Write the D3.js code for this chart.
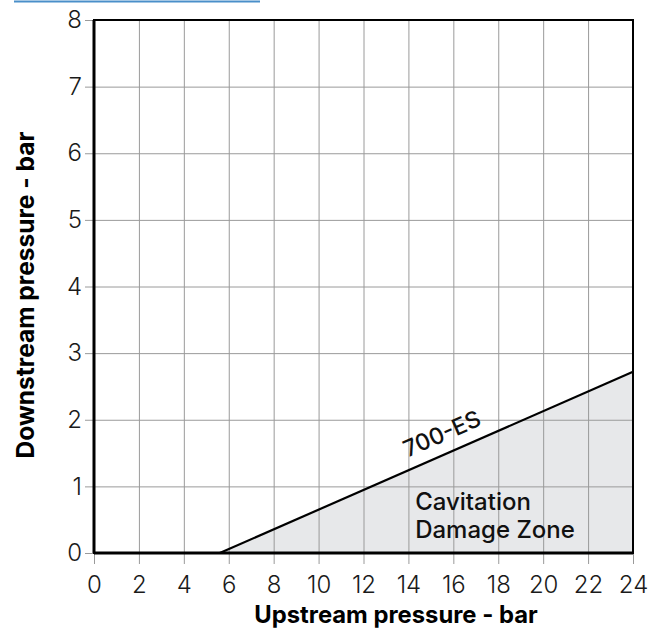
<!DOCTYPE html>
<html>
<head>
<meta charset="utf-8">
<script src="https://cdn.jsdelivr.net/npm/d3@7"></script>
<style>
  html, body { margin: 0; padding: 0; background: #fff; }
  svg { display: block; font-family: Inter, "Liberation Sans", Arial, sans-serif; }
</style>
</head>
<body>
<svg id="chart" width="662" height="628"></svg>
<script>
// ---- data ----
const xTicks = [0, 2, 4, 6, 8, 10, 12, 14, 16, 18, 20, 22, 24];
const yTicks = [0, 1, 2, 3, 4, 5, 6, 7, 8];
const lineX = [5.6, 24];
const lineY = [0, 2.72];
const seriesLabel = "700-ES";
const zoneLabel = ["Cavitation", "Damage Zone"];
const xTitle = "Upstream pressure - bar";
const yTitle = "Downstream pressure - bar";

// ---- layout ----
const svg = d3.select("#chart");
const x = d3.scaleLinear().domain([0, 24]).range([94, 633]);
const y = d3.scaleLinear().domain([0, 8]).range([553, 20]);
const FONT = "Inter, 'Liberation Sans', Arial, sans-serif";

// decorative blue rule at top
svg.append("line").attr("x1", 14).attr("x2", 260).attr("y1", 1.5).attr("y2", 1.5)
  .attr("stroke", "#4a8fc9").attr("stroke-width", 2);

// damage zone fill
const zone = [[lineX[0], lineY[0]], [lineX[1], lineY[1]], [lineX[1], 0]];
svg.append("path")
  .attr("d", d3.line().x(d => x(d[0])).y(d => y(d[1]))(zone) + "Z")
  .attr("fill", "#e7e8ea");

// grid (vertical)
const gx = svg.append("g").attr("transform", `translate(0,${y(0)})`)
  .call(d3.axisBottom(x).tickValues(xTicks).tickSize(-(y(0) - y(8))).tickFormat(""));
gx.select(".domain").remove();
gx.selectAll("line").attr("stroke", "#9a9a9a").attr("stroke-width", 1);
// grid (horizontal)
const gy = svg.append("g").attr("transform", `translate(${x(0)},0)`)
  .call(d3.axisLeft(y).tickValues(yTicks).tickSize(-(x(24) - x(0))).tickFormat(""));
gy.select(".domain").remove();
gy.selectAll("line").attr("stroke", "#9a9a9a").attr("stroke-width", 1);

// outer ticks + labels
const ax = svg.append("g").attr("transform", `translate(0,${y(0)})`)
  .call(d3.axisBottom(x).tickValues(xTicks).tickSize(11).tickPadding(12));
ax.select(".domain").remove();
ax.selectAll("line").attr("stroke", "#9a9a9a");
ax.selectAll("text").attr("font-size", 24).attr("font-weight", 300)
  .attr("fill", "#1a1a1a").attr("font-family", FONT);

const ay = svg.append("g").attr("transform", `translate(${x(0)},0)`)
  .call(d3.axisLeft(y).tickValues(yTicks).tickSize(9).tickPadding(3));
ay.select(".domain").remove();
ay.selectAll("line").attr("stroke", "#9a9a9a");
ay.selectAll("text").attr("font-size", 24).attr("font-weight", 300)
  .attr("fill", "#1a1a1a").attr("font-family", FONT);

// frame
svg.append("rect").attr("x", x(0)).attr("y", y(8))
  .attr("width", x(24) - x(0)).attr("height", y(0) - y(8))
  .attr("fill", "none").attr("stroke", "#000").attr("stroke-width", 2);
svg.append("line").attr("x1", x(0)).attr("x2", x(0)).attr("y1", y(8)).attr("y2", y(0))
  .attr("stroke", "#000").attr("stroke-width", 3);
svg.append("line").attr("x1", x(0)).attr("x2", x(24)).attr("y1", y(0)).attr("y2", y(0))
  .attr("stroke", "#000").attr("stroke-width", 3);

// curve
svg.append("path")
  .attr("d", d3.line().x((d, i) => x(lineX[i])).y((d, i) => y(lineY[i]))(lineX))
  .attr("fill", "none").attr("stroke", "#000").attr("stroke-width", 2.2);

// series label along curve
const ang = Math.atan2(y(lineY[1]) - y(lineY[0]), x(lineX[1]) - x(lineX[0])) * 180 / Math.PI;
const lx = 15.85;
const ly = lineY[0] + (lx - lineX[0]) / (lineX[1] - lineX[0]) * (lineY[1] - lineY[0]);
svg.append("text")
  .attr("transform", `translate(${x(lx)},${y(ly)}) rotate(${ang})`)
  .attr("dy", -12).attr("text-anchor", "middle")
  .attr("font-size", 23).attr("font-weight", 500).attr("fill", "#111")
  .text(seriesLabel);

// zone label
svg.append("text").attr("x", x(14.3)).attr("y", y(0.65))
  .attr("font-size", 24).attr("font-weight", 500).attr("fill", "#111").text(zoneLabel[0]);
svg.append("text").attr("x", x(14.3)).attr("y", y(0.23))
  .attr("font-size", 24).attr("font-weight", 500).attr("fill", "#111").text(zoneLabel[1]);

// axis titles
svg.append("text").attr("x", 396).attr("y", 623)
  .attr("text-anchor", "middle").attr("font-size", 23.8).attr("font-weight", 700)
  .attr("fill", "#000").text(xTitle);
svg.append("text").attr("transform", `translate(34,295) rotate(-90)`)
  .attr("text-anchor", "middle").attr("font-size", 24.5).attr("font-weight", 700)
  .attr("fill", "#000").text(yTitle);
</script>
</body>
</html>
